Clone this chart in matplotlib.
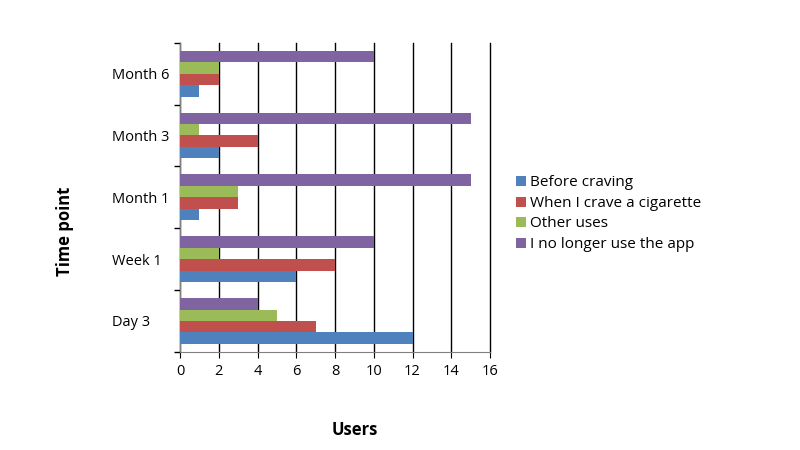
import matplotlib.pyplot as plt
import numpy as np

plt.rcParams['font.family'] = ['Open Sans', 'DejaVu Sans']

categories = ['Day 3', 'Week 1', 'Month 1', 'Month 3', 'Month 6']
series_names = ['Before craving', 'When I crave a cigarette', 'Other uses',
                'I no longer use the app']
before_craving = [12, 6, 1, 2, 1]
when_crave = [7, 8, 3, 4, 2]
other_uses = [5, 2, 3, 1, 2]
no_longer = [4, 10, 15, 15, 10]
colors = ['#4F81BD', '#C0504D', '#9BBB59', '#8064A2']

fig = plt.figure(figsize=(8, 4.5), dpi=100)
ax = fig.add_axes([0.225, 0.218, 0.3875, 0.687])

y = np.arange(len(categories))
h = 0.185
all_series = [before_craving, when_crave, other_uses, no_longer]
for i, (vals, name, c) in enumerate(zip(all_series, series_names, colors)):
    ax.barh(y + (i - 1.5) * h, vals, height=h, color=c, label=name, zorder=3)

ax.set_xlim(0, 16)
ax.set_ylim(-0.5, 4.5)
ax.set_xticks(range(0, 17, 2))
ax.set_yticks(y)
ax.set_yticklabels(categories)
for t in ax.get_yticklabels():
    t.set_horizontalalignment('left')
ax.set_yticks(np.arange(-0.5, 5, 1), minor=True)
ax.tick_params(axis='y', which='major', length=0, pad=49, labelsize=10.5)
ax.tick_params(axis='y', which='minor', length=4, width=1)
ax.tick_params(axis='x', length=4, pad=5, labelsize=10.5)
ax.grid(axis='x', color='black', linewidth=1, zorder=0)
for gl in ax.get_xgridlines():
    gl.set_clip_on(False)
for s in ['top', 'right']:
    ax.spines[s].set_visible(False)
ax.spines['left'].set_color('#808080')
ax.spines['bottom'].set_color('#808080')

fig.text(0.081, 0.487, 'Time point', rotation=90, ha='center', va='center',
         fontsize=12, fontweight='bold')
fig.text(0.444, 0.045, 'Users', ha='center', va='center',
         fontsize=12, fontweight='bold')

fig.legend(loc='upper left', bbox_to_anchor=(0.635, 0.627), frameon=False,
           fontsize=11, handlelength=0.65, handleheight=0.65, handletextpad=0.3,
           labelspacing=0.36, borderpad=0)

fig.savefig('out.png', dpi=100)
